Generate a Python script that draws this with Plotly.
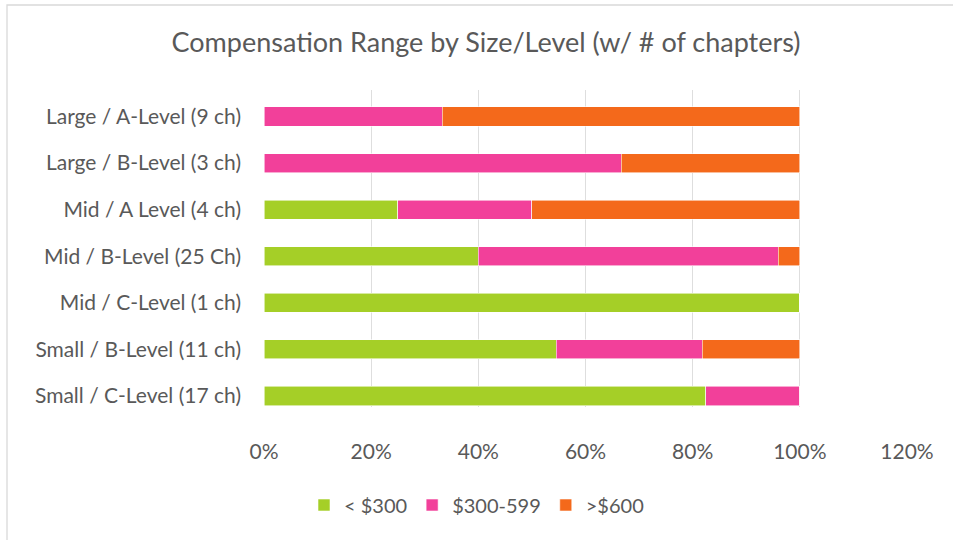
import plotly.graph_objects as go

categories = [
    "Large / A-Level (9 ch)",
    "Large / B-Level (3 ch)",
    "Mid / A Level (4 ch)",
    "Mid / B-Level (25 Ch)",
    "Mid / C-Level (1 ch)",
    "Small / B-Level (11 ch)",
    "Small / C-Level (17 ch)",
]
under_300 = [0.0, 0.0, 0.25, 0.40, 1.0, 0.545, 0.824]
mid_300_599 = [0.333, 0.667, 0.25, 0.56, 0.0, 0.273, 0.176]
over_600 = [0.667, 0.333, 0.50, 0.04, 0.0, 0.182, 0.0]
series_names = ["< $300", "$300-599", ">$600"]
colors = ["#A5CF27", "#F2409A", "#F4691B"]
x_ticks = [0, 0.2, 0.4, 0.6, 0.8, 1.0, 1.2]
x_tick_labels = ["0%", "20%", "40%", "60%", "80%", "100%", "120%"]

FONT = "Lato, 'Open Sans', sans-serif"
TXT = "#595959"

L, R, T, B = 264, 46, 90, 133
PW, PH = 953 - L - R, 540 - T - B

fig = go.Figure()
for name, vals, col in zip(series_names, [under_300, mid_300_599, over_600], colors):
    fig.add_trace(go.Bar(
        y=categories, x=vals, name=name, orientation="h",
        marker=dict(color=col, line=dict(color="rgba(255,255,255,0.7)", width=0.8)),
        width=0.41,
    ))

fig.update_layout(
    barmode="stack",
    width=953, height=540,
    paper_bgcolor="white", plot_bgcolor="white",
    margin=dict(l=L, r=R, t=T, b=B, autoexpand=False),
    font=dict(family=FONT, color=TXT, size=21),
    title=dict(text="Compensation Range by Size/Level (w/ # of chapters)",
               x=0.51, xanchor="center", y=1 - 43 / 540, yanchor="middle",
               font=dict(size=27, color=TXT, family=FONT)),
    xaxis=dict(range=[0, 1.2], tickvals=x_ticks, ticktext=x_tick_labels,
               showgrid=True, gridcolor="#DEDEDE", gridwidth=1.2,
               zeroline=False, showline=False, ticks="", ticklabelstandoff=30,
               automargin=False, tickfont=dict(size=21, color=TXT)),
    yaxis=dict(categoryorder="array", categoryarray=categories[::-1],
               range=[-0.236, 6.569],
               showgrid=False, zeroline=False, showline=False, ticks="",
               automargin=False, ticklabelstandoff=22,
               tickfont=dict(size=21, color=TXT)),
    legend=dict(orientation="h", xref="container", yref="container",
                x=0.5, xanchor="center", y=1 - 505 / 540, yanchor="middle",
                font=dict(size=20, color=TXT), traceorder="normal",
                itemwidth=30),
    showlegend=True,
)
fig.add_shape(type="rect", xref="paper", yref="paper",
              x0=(7 - L) / PW, x1=1 + (R + 10) / PW,
              y0=-(B + 10) / PH, y1=1 + (T - 5) / PH,
              line=dict(color="#D9D9D9", width=1.3), fillcolor="rgba(0,0,0,0)", layer="below")

fig.write_html("out.html", config={"displayModeBar": False},
               post_script="document.body.style.margin='0';document.body.style.overflow='hidden';")
